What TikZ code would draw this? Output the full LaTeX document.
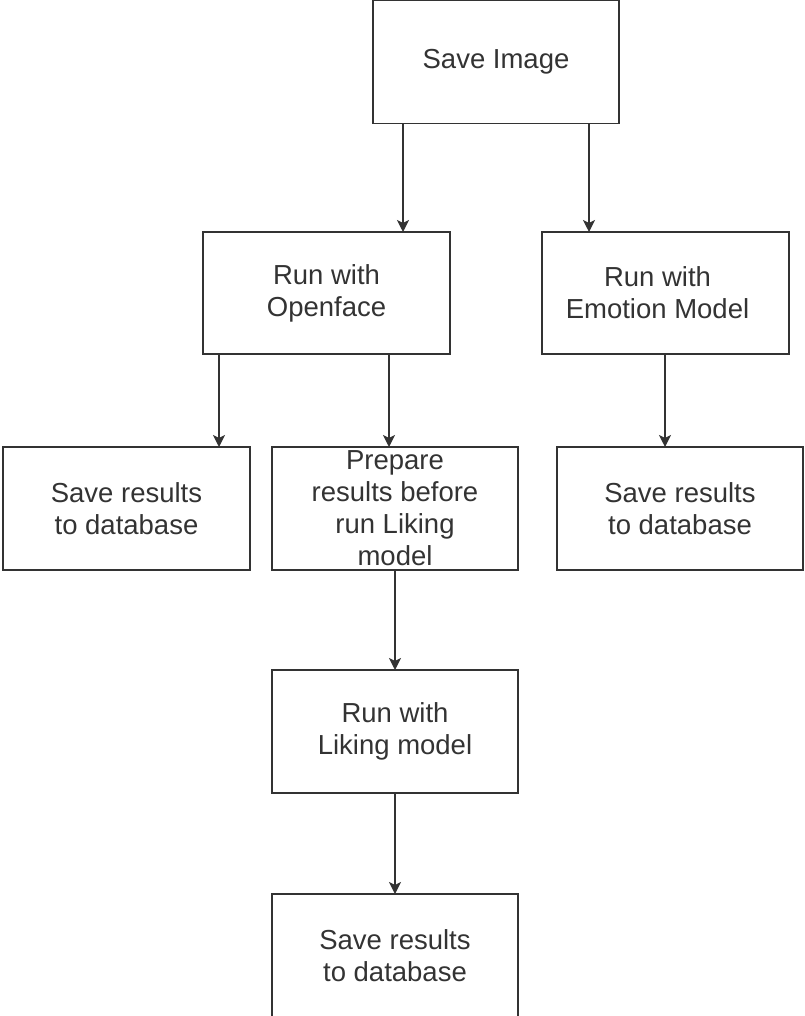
\documentclass[tikz,border=0pt]{standalone}
\usepackage{fontspec}
\setmainfont{Liberation Sans}
\usetikzlibrary{arrows.meta,calc}
\definecolor{linec}{HTML}{333333}
\definecolor{textc}{HTML}{333333}
\begin{document}
\begin{tikzpicture}[x=1pt,y=-1pt,
  box/.style={draw=linec,line width=1.3pt,inner sep=0pt,outer sep=0pt,
    minimum width=246pt,minimum height=123pt,align=center,text=textc,
    font=\fontsize{27.5}{32}\selectfont},
  arr/.style={draw=linec,line width=1.3pt,-{Stealth[length=12pt,width=12pt,inset=3pt]}}]
\useasboundingbox (0,0) rectangle (804,1016);
\node[box] (save) at (496,62) {Save Image};
\node[box,minimum width=247pt,minimum height=122pt] (openface) at (326.5,293) {Run with\\Openface};
\node[box,minimum width=247pt,minimum height=122pt,
  label={[text=textc,align=center,font=\fontsize{27.5}{32}\selectfont,xshift=-8pt]center:Run with\\Emotion Model}] (emotion) at (665.5,293) {};
\node[box,minimum width=247pt] (lsave) at (126.5,508.5) {Save results\\to database};
\node[box] (prepare) at (395,508.5) {Prepare\\results before\\run Liking\\model};
\node[box] (rsave) at (680,508.5) {Save results\\to database};
\node[box] (liking) at (395,731.5) {Run with\\Liking model};
\node[box] (bsave) at (395,955.5) {Save results\\to database};
\draw[arr] (save.south -| 403,0) -- (openface.north -| 403,0);
\draw[arr] (save.south -| 589,0) -- (emotion.north -| 589,0);
\draw[arr] (openface.south -| 219,0) -- (lsave.north -| 219,0);
\draw[arr] (openface.south -| 389,0) -- (prepare.north -| 389,0);
\draw[arr] (emotion.south -| 665,0) -- (rsave.north -| 665,0);
\draw[arr] (prepare.south) -- (liking.north);
\draw[arr] (liking.south) -- (bsave.north);
\end{tikzpicture}
\end{document}
